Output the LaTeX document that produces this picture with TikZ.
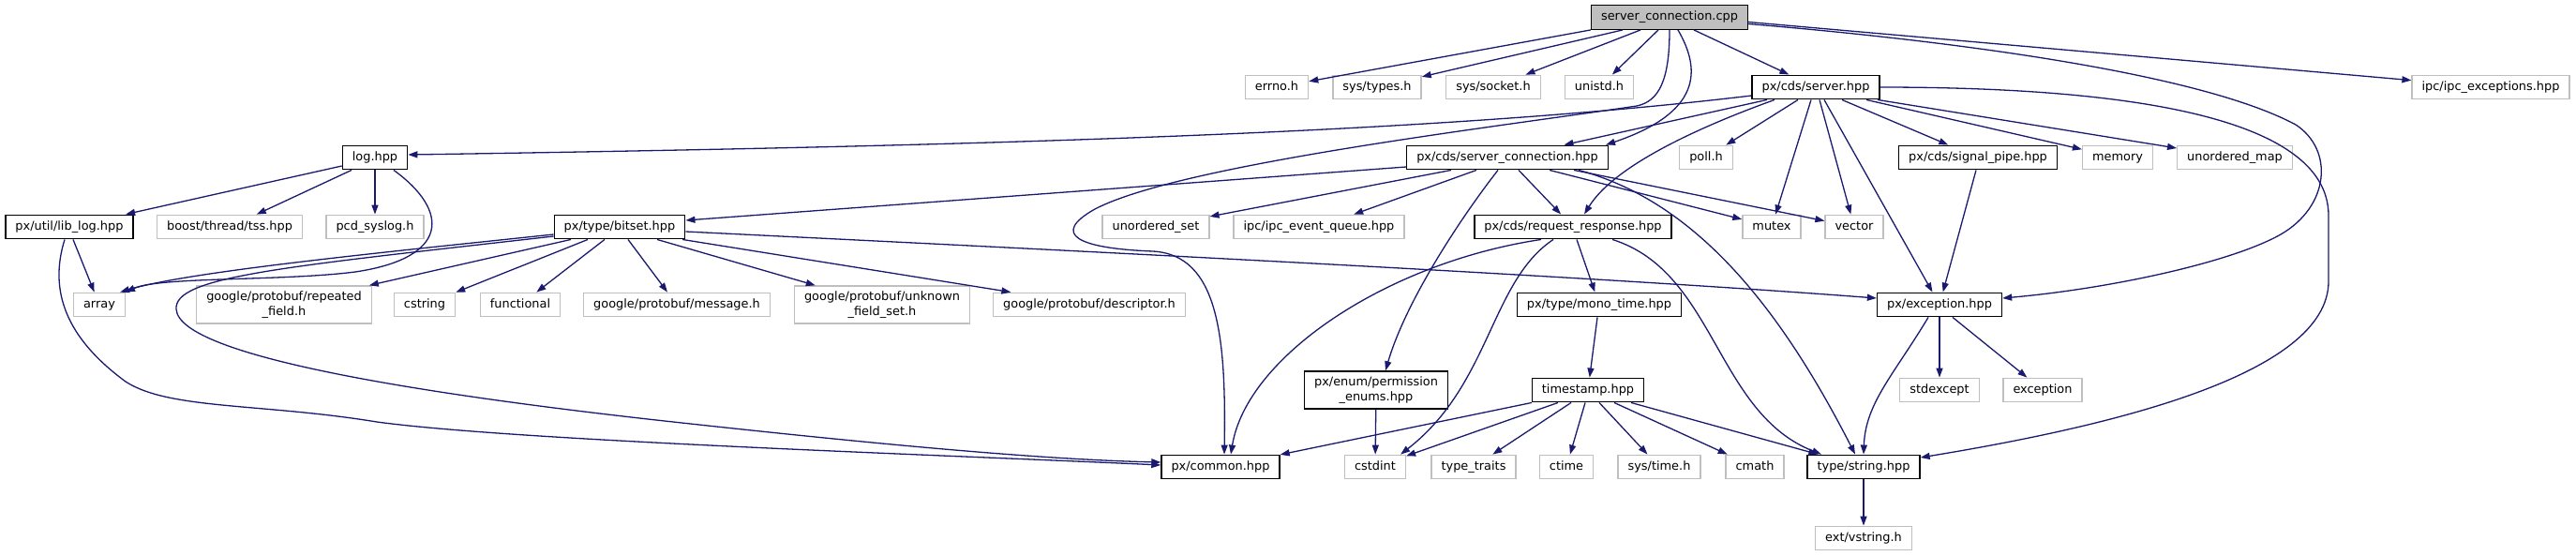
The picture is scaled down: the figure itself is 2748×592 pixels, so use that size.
\documentclass[tikz,border=0pt]{standalone}
\usepackage{fontspec}
\setmainfont{DejaVu Sans}
\usetikzlibrary{arrows.meta}

\definecolor{grey75}{RGB}{191,191,191}
\definecolor{midnight}{RGB}{25,25,112}
\newcommand{\gfont}{\fontsize{12.9pt}{15.3pt}\selectfont}

\tikzset{
  boxbase/.style={rectangle, inner xsep=10.5pt, inner ysep=0pt, minimum height=25.5pt,
    font=\gfont, fill=white, text height=9.6pt, text depth=3pt},
  syshdr/.style={boxbase, draw=grey75, line width=1.3pt},
  pxhdr/.style={boxbase, draw=black, line width=1.4pt},
  srcfile/.style={pxhdr, fill=grey75},
  twoline/.style={align=center, minimum height=40pt, text height=, text depth=},
  incl/.style={draw=midnight, line width=1.3pt, -{Triangle[length=10pt,width=7pt]}}
}

\begin{document}
\begin{tikzpicture}[x=1pt, y=-1pt]
\useasboundingbox (0,0) rectangle (2748,592);

% rank 0
\node[srcfile] (sccpp) at (1781,18.5) {server\_connection.cpp};

% rank 1
\node[syshdr] (errno) at (1362,93) {errno.h};
\node[syshdr] (systypes) at (1469,93) {sys/types.h};
\node[syshdr] (syssocket) at (1593,93) {sys/socket.h};
\node[syshdr] (unistd) at (1706,93) {unistd.h};
\node[pxhdr] (server) at (1937,93) {px/cds/server.hpp};
\node[syshdr] (ipcexc) at (2657,93) {ipc/ipc\_exceptions.hpp};

% rank 2
\node[pxhdr] (log) at (400,168) {log.hpp};
\node[pxhdr] (schpp) at (1608,168) {px/cds/server\_connection.hpp};
\node[syshdr] (poll) at (1820,168) {poll.h};
\node[pxhdr] (sigpipe) at (2110,168) {px/cds/signal\_pipe.hpp};
\node[syshdr] (memory) at (2259,168) {memory};
\node[syshdr] (umap) at (2384,168) {unordered\_map};

% rank 3
\node[pxhdr] (liblog) at (74,242) {px/util/lib\_log.hpp};
\node[syshdr] (tss) at (245,242) {boost/thread/tss.hpp};
\node[syshdr] (syslog) at (400,242) {pcd\_syslog.h};
\node[pxhdr] (bitset) at (661,242) {px/type/bitset.hpp};
\node[syshdr] (uset) at (1233,242) {unordered\_set};
\node[syshdr] (evq) at (1407,242) {ipc/ipc\_event\_queue.hpp};
\node[pxhdr] (reqresp) at (1678,242) {px/cds/request\_response.hpp};
\node[syshdr] (mutex) at (1890,242) {mutex};
\node[syshdr] (vector) at (1978,242) {vector};

% rank 4
\node[syshdr] (array) at (106,325) {array};
\node[syshdr, twoline] (repfield) at (303,325) {google/protobuf/repeated\\\_field.h};
\node[syshdr] (cstring) at (453,325) {cstring};
\node[syshdr] (functional) at (555,325) {functional};
\node[syshdr] (message) at (722,325) {google/protobuf/message.h};
\node[syshdr, twoline] (unkfield) at (941,325) {google/protobuf/unknown\\\_field\_set.h};
\node[syshdr] (descr) at (1162,325) {google/protobuf/descriptor.h};
\node[pxhdr] (monotime) at (1706,325) {px/type/mono\_time.hpp};
\node[pxhdr] (pxexc) at (2069,325) {px/exception.hpp};

% rank 5
\node[pxhdr, twoline] (perm) at (1468,416) {px/enum/permission\\\_enums.hpp};
\node[pxhdr] (timestamp) at (1694,416) {timestamp.hpp};
\node[syshdr] (stdexc) at (2069,416) {stdexcept};
\node[syshdr] (excstd) at (2179,416) {exception};

% rank 6
\node[pxhdr] (common) at (1302,498) {px/common.hpp};
\node[syshdr] (cstdint) at (1467,498) {cstdint};
\node[syshdr] (typetraits) at (1572,498) {type\_traits};
\node[syshdr] (ctime) at (1671,498) {ctime};
\node[syshdr] (systime) at (1770,498) {sys/time.h};
\node[syshdr] (cmath) at (1872,498) {cmath};
\node[pxhdr] (string) at (1988,498) {type/string.hpp};

% rank 7
\node[syshdr] (vstring) at (1988,574) {ext/vstring.h};

% server_connection.cpp
\draw[incl] (sccpp.south west) -- (errno);
\draw[incl] ([xshift=-50pt]sccpp.south) -- (systypes);
\draw[incl] ([xshift=-31pt]sccpp.south) -- (syssocket);
\draw[incl] ([xshift=-12pt]sccpp.south) -- (unistd);
\draw[incl] ([xshift=26pt]sccpp.south) -- (server);
\draw[incl] ([xshift=9pt]sccpp.south) .. controls (1815,75) and (1815,120) .. ([xshift=-3pt]schpp.north east);
\draw[incl] (sccpp.south) .. controls (1781,85) and (1770,108) .. (1746,113)
  .. controls (1600,135) and (1260,175) .. (1168,223)
  .. controls (1120,250) and (1150,265) .. (1230,268)
  .. controls (1300,272) and (1308,360) .. ([xshift=4pt]common.north);
\draw[incl] ([yshift=-5pt]sccpp.east) -- (ipcexc);
\draw[incl] ([yshift=-7pt]sccpp.east) .. controls (2100,45) and (2350,80) .. (2449,133)
  .. controls (2490,160) and (2485,220) .. (2433,250)
  .. controls (2380,280) and (2250,308) .. ([yshift=7pt]pxexc.east);

% px/cds/server.hpp
\draw[incl] ([yshift=-9pt]server.west) .. controls (1550,140) and (1100,155) .. ([yshift=3pt]log.east);
\draw[incl] ([xshift=-52pt]server.south) -- (schpp);
\draw[incl] ([xshift=-44pt]server.south) .. controls (1800,140) and (1720,180) .. ([xshift=12pt]reqresp.north);
\draw[incl] ([xshift=-19pt]server.south) -- (poll);
\draw[incl] ([xshift=-5pt]server.south) -- (mutex);
\draw[incl] ([xshift=4pt]server.south) -- (vector);
\draw[incl] ([xshift=9pt]server.south) -- (pxexc);
\draw[incl] ([xshift=28pt]server.south) -- (sigpipe);
\draw[incl] ([xshift=54pt]server.south) -- (memory);
\draw[incl] ([xshift=66pt]server.south) -- (umap);
\draw[incl] (server.east) .. controls (2250,93) and (2484,120) .. (2484,230)
  -- (2484,300) .. controls (2484,400) and (2250,455) .. ([yshift=10pt]string.east);

% px/cds/server_connection.hpp
\draw[incl] ([yshift=-10pt]schpp.west) -- ([yshift=7pt]bitset.east);
\draw[incl] ([xshift=-60pt]schpp.south) -- (uset);
\draw[incl] ([xshift=-33pt]schpp.south) -- (evq);
\draw[incl] ([xshift=-10pt]schpp.south) .. controls (1560,230) and (1500,320) .. ([xshift=10pt]perm.north);
\draw[incl] ([xshift=12pt]schpp.south) -- (reqresp);
\draw[incl] ([xshift=45pt]schpp.south) -- (mutex);
\draw[incl] ([xshift=71pt]schpp.south) -- (vector);
\draw[incl] ([xshift=76pt]schpp.south) .. controls (1810,215) and (1900,330) .. ([xshift=-9pt]string.north);

% px/cds/request_response.hpp
\draw[incl] ([xshift=-34pt]reqresp.south) .. controls (1480,280) and (1330,380) .. ([xshift=11pt]common.north);
\draw[incl] ([xshift=-21pt]reqresp.south) .. controls (1590,300) and (1590,410) .. ([xshift=-6pt]cstdint.north east);
\draw[incl] ([xshift=4pt]reqresp.south) -- (monotime);
\draw[incl] ([xshift=42pt]reqresp.south) .. controls (1830,290) and (1830,440) .. ([xshift=-45pt]string.north);

\draw[incl] ([xshift=-2pt]monotime.south) -- (timestamp);
\draw[incl] (perm) -- (cstdint);

% timestamp.hpp
\draw[incl] ([xshift=-60pt]timestamp.south) -- (common);
\draw[incl] ([xshift=-32pt]timestamp.south) -- (cstdint);
\draw[incl] ([xshift=-18pt]timestamp.south) -- (typetraits);
\draw[incl] ([xshift=-3pt]timestamp.south) -- (ctime);
\draw[incl] ([xshift=12pt]timestamp.south) -- (systime);
\draw[incl] ([xshift=28pt]timestamp.south) -- (cmath);
\draw[incl] ([xshift=46pt]timestamp.south) -- (string);

% px/type/bitset.hpp
\draw[incl] ([yshift=-8pt]bitset.west) .. controls (400,270) and (200,290) .. ([xshift=-6pt]array.north east);
\draw[incl] ([yshift=-10pt]bitset.west) .. controls (300,285) and (185,295) .. (188,330)
  .. controls (192,380) and (450,420) .. (700,448)
  .. controls (900,470) and (1100,490) .. ([yshift=5pt]common.west);
\draw[incl] ([xshift=-52pt]bitset.south) -- (repfield);
\draw[incl] ([xshift=-34pt]bitset.south) -- (cstring);
\draw[incl] ([xshift=-16pt]bitset.south) -- (functional);
\draw[incl] ([xshift=9pt]bitset.south) -- (message);
\draw[incl] ([xshift=40pt]bitset.south) -- (unkfield);
\draw[incl] ([xshift=67pt]bitset.south) -- (descr);
\draw[incl] ([yshift=-5pt]bitset.east) .. controls (1200,270) and (1700,295) .. ([yshift=7pt]pxexc.west);

% log.hpp
\draw[incl] ([yshift=-9pt]log.west) -- (liblog);
\draw[incl] ([xshift=-25pt]log.south) -- (tss);
\draw[incl] (log) -- (syslog);
\draw[incl] ([xshift=20pt]log.south) .. controls (480,225) and (480,275) .. (379,290)
  .. controls (300,300) and (170,295) .. (array.north east);

% px/util/lib_log.hpp
\draw[incl] ([xshift=4pt]liblog.south) -- (array);
\draw[incl] ([xshift=-5pt]liblog.south) .. controls (52,310) and (70,360) .. (134,407)
  .. controls (180,437) and (280,430) .. (402,450)
  .. controls (550,470) and (1000,485) .. ([yshift=2pt]common.west);

% px/exception.hpp
\draw[incl] ([xshift=-2pt]sigpipe.south) -- (pxexc);
\draw[incl] ([xshift=-12pt]pxexc.south) .. controls (2020,400) and (1990,430) .. (string.north);
\draw[incl] (pxexc) -- (stdexc);
\draw[incl] ([xshift=14pt]pxexc.south) -- (excstd);

\draw[incl] (string) -- (vstring);

\end{tikzpicture}
\end{document}
